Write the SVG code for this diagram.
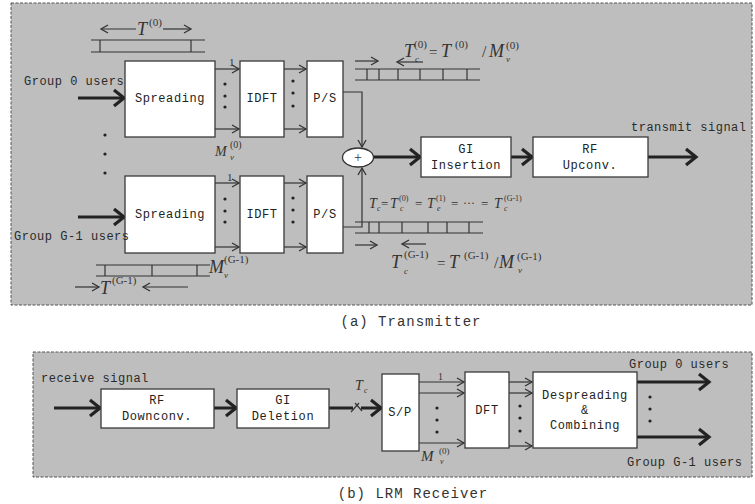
<svg xmlns="http://www.w3.org/2000/svg" width="755" height="504" viewBox="0 0 755 504">
<defs>
<marker id="ah" markerUnits="userSpaceOnUse" markerWidth="10" markerHeight="10" refX="8" refY="5" orient="auto">
<path d="M1,1 L8,5 L1,9" fill="none" stroke="#333" stroke-width="1.3"/>
</marker>
<marker id="ahT" markerUnits="userSpaceOnUse" markerWidth="16" markerHeight="20" refX="12" refY="10" orient="auto">
<path d="M2,2 L12,10 L2,18" fill="none" stroke="#222" stroke-width="3.2" stroke-linejoin="miter"/>
</marker>
</defs>
<style>
.panel{fill:#bebebe;stroke:#555;stroke-width:1;stroke-dasharray:3,1.5}
.box{fill:#fff;stroke:#3a3a3a;stroke-width:1.3}
.lbl{font-family:"Liberation Mono","DejaVu Sans Mono",monospace;font-size:12px;fill:#2a2a2a;letter-spacing:0.5px}
.bl{font-family:"Liberation Mono","DejaVu Sans Mono",monospace;font-size:12px;fill:#222;letter-spacing:0.6px;text-anchor:middle}
.cap{font-family:"Liberation Mono","DejaVu Sans Mono",monospace;font-size:14px;fill:#333;letter-spacing:1px;text-anchor:middle}
.m{font-family:"Liberation Serif","DejaVu Serif",serif;font-style:italic;fill:#333}
.s{font-family:"Liberation Serif","DejaVu Serif",serif;font-style:normal;fill:#333}
.thin{fill:none;stroke:#333;stroke-width:1.2}
.thick{fill:none;stroke:#222;stroke-width:3}
.bar{fill:none;stroke:#333;stroke-width:1.2}
.dot{fill:#222}
</style>
<rect x="0" y="0" width="755" height="504" fill="#fff"/>
<rect class="panel" x="11" y="3" width="741" height="302"/>
<rect class="panel" x="33" y="352" width="719" height="125"/>
<text class="cap" x="411" y="326">(a) Transmitter</text>
<text class="cap" x="413" y="498">(b) LRM Receiver</text>

<g id="connectors">
<line class="thick" x1="78" y1="98" x2="124" y2="98" marker-end="url(#ahT)"/>
<line class="thin" x1="215" y1="69" x2="239" y2="69" marker-end="url(#ah)"/>
<line class="thin" x1="215" y1="129" x2="239" y2="129" marker-end="url(#ah)"/>
<line class="thin" x1="284" y1="69" x2="306" y2="69" marker-end="url(#ah)"/>
<line class="thin" x1="284" y1="129" x2="306" y2="129" marker-end="url(#ah)"/>
<polyline class="thin" points="343,92 362,92 362,147" marker-end="url(#ah)"/>
<line class="thick" x1="78" y1="217" x2="124" y2="217" marker-end="url(#ahT)"/>
<line class="thin" x1="215" y1="183" x2="239" y2="183" marker-end="url(#ah)"/>
<line class="thin" x1="215" y1="247" x2="239" y2="247" marker-end="url(#ah)"/>
<line class="thin" x1="284" y1="183" x2="306" y2="183" marker-end="url(#ah)"/>
<line class="thin" x1="284" y1="247" x2="306" y2="247" marker-end="url(#ah)"/>
<polyline class="thin" points="343,227 362,227 362,168" marker-end="url(#ah)"/>
<line class="thick" x1="374" y1="157" x2="420" y2="157" marker-end="url(#ahT)"/>
<line class="thick" x1="511" y1="157" x2="532" y2="157" marker-end="url(#ahT)"/>
<line class="thick" x1="648" y1="157" x2="696" y2="157" marker-end="url(#ahT)"/>
<line class="thick" x1="54" y1="408" x2="100" y2="408" marker-end="url(#ahT)"/>
<line class="thick" x1="214" y1="408" x2="236" y2="408" marker-end="url(#ahT)"/>
<line class="thick" x1="329" y1="408" x2="353" y2="408"/>
<line class="thin" x1="351" y1="412" x2="359" y2="403"/>
<line class="thin" x1="355" y1="403" x2="362" y2="411"/>
<line class="thick" x1="361" y1="408" x2="381" y2="408" marker-end="url(#ahT)"/>
<line class="thin" x1="419" y1="382" x2="464" y2="382" marker-end="url(#ah)"/>
<line class="thin" x1="419" y1="393" x2="464" y2="393" marker-end="url(#ah)"/>
<line class="thin" x1="419" y1="443" x2="464" y2="443" marker-end="url(#ah)"/>
<line class="thin" x1="509" y1="382" x2="532" y2="382" marker-end="url(#ah)"/>
<line class="thin" x1="509" y1="393" x2="532" y2="393" marker-end="url(#ah)"/>
<line class="thin" x1="509" y1="446" x2="532" y2="446" marker-end="url(#ah)"/>
<line class="thick" x1="637" y1="382" x2="709" y2="382" marker-end="url(#ahT)"/>
<line class="thick" x1="637" y1="437" x2="709" y2="437" marker-end="url(#ahT)"/>
</g>

<g id="spreading0"><rect class="box" x="125" y="61" width="90" height="76"/><text class="bl" x="170" y="102">Spreading</text></g>
<g id="idft0"><rect class="box" x="240" y="61" width="44" height="76"/><text class="bl" x="262" y="102">IDFT</text></g>
<g id="ps0"><rect class="box" x="307" y="61" width="36" height="76"/><text class="bl" x="325" y="102">P/S</text></g>
<g id="spreading1"><rect class="box" x="125" y="176" width="90" height="77"/><text class="bl" x="170" y="218">Spreading</text></g>
<g id="idft1"><rect class="box" x="240" y="176" width="44" height="77"/><text class="bl" x="262" y="218">IDFT</text></g>
<g id="ps1"><rect class="box" x="307" y="176" width="36" height="77"/><text class="bl" x="325" y="218">P/S</text></g>
<g id="sum"><ellipse cx="358" cy="157.5" rx="15.5" ry="9.5" fill="#fff" stroke="#333" stroke-width="1.3"/><text class="s" x="358" y="162" font-size="14" text-anchor="middle">+</text></g>
<g id="giins"><rect class="box" x="421" y="137" width="90" height="40"/><text class="bl" x="466" y="153">GI</text><text class="bl" x="466" y="169">Insertion</text></g>
<g id="rfup"><rect class="box" x="533" y="137" width="115" height="40"/><text class="bl" x="590" y="153">RF</text><text class="bl" x="590" y="169">Upconv.</text></g>
<g id="rfdown"><rect class="box" x="101" y="389" width="113" height="39"/><text class="bl" x="157" y="404">RF</text><text class="bl" x="157" y="420">Downconv.</text></g>
<g id="gidel"><rect class="box" x="237" y="389" width="92" height="39"/><text class="bl" x="283" y="404">GI</text><text class="bl" x="283" y="420">Deletion</text></g>
<g id="sp"><rect class="box" x="382" y="374" width="37" height="77"/><text class="bl" x="400" y="416">S/P</text></g>
<g id="dft"><rect class="box" x="465" y="372" width="44" height="76"/><text class="bl" x="487" y="414">DFT</text></g>
<g id="despread"><rect class="box" x="533" y="372" width="104" height="76"/><text class="bl" x="585" y="399">Despreading</text><text class="bl" x="585" y="414">&amp;</text><text class="bl" x="585" y="429">Combining</text></g>

<g id="labels">
<text class="lbl" x="24" y="85">Group 0 users</text>
<text class="lbl" x="14" y="240">Group G-1 users</text>
<text class="lbl" x="631" y="131">transmit signal</text>
<text class="lbl" x="41" y="382">receive signal</text>
<text class="lbl" x="629" y="368">Group 0 users</text>
<text class="lbl" x="627" y="466">Group G-1 users</text>
<text class="s" x="229" y="66" font-size="11">1</text>
<text class="s" x="227" y="181" font-size="11">1</text>
<text class="s" x="438" y="380" font-size="10">1</text>
</g>

<g id="dots">
<circle class="dot" cx="225" cy="84" r="1.6"/><circle class="dot" cx="225" cy="96" r="1.6"/><circle class="dot" cx="225" cy="107" r="1.6"/>
<circle class="dot" cx="293" cy="81" r="1.6"/><circle class="dot" cx="293" cy="93" r="1.6"/><circle class="dot" cx="293" cy="106" r="1.6"/>
<circle class="dot" cx="225" cy="199" r="1.6"/><circle class="dot" cx="225" cy="211" r="1.6"/><circle class="dot" cx="225" cy="222" r="1.6"/>
<circle class="dot" cx="293" cy="198" r="1.6"/><circle class="dot" cx="293" cy="210" r="1.6"/><circle class="dot" cx="293" cy="222" r="1.6"/>
<circle class="dot" cx="105" cy="135" r="1.6"/><circle class="dot" cx="105" cy="154" r="1.6"/><circle class="dot" cx="105" cy="173" r="1.6"/>
<circle class="dot" cx="437" cy="408" r="1.6"/><circle class="dot" cx="437" cy="420" r="1.6"/><circle class="dot" cx="437" cy="432" r="1.6"/>
<circle class="dot" cx="520" cy="406" r="1.6"/><circle class="dot" cx="520" cy="418" r="1.6"/><circle class="dot" cx="520" cy="431" r="1.6"/>
<circle class="dot" cx="650" cy="397" r="1.6"/><circle class="dot" cx="650" cy="409" r="1.6"/><circle class="dot" cx="650" cy="421" r="1.6"/>
</g>

<g id="timing">
<line class="thin" x1="136" y1="29" x2="101" y2="29" marker-end="url(#ah)"/>
<line class="thin" x1="163" y1="29" x2="191" y2="29" marker-end="url(#ah)"/>
<text class="m" x="137" y="35" font-size="18">T</text><text class="s" x="149" y="26" font-size="11">(0)</text>
<line class="bar" x1="91" y1="40" x2="205" y2="40"/><line class="bar" x1="91" y1="52" x2="205" y2="52"/>
<line class="bar" x1="100" y1="40" x2="100" y2="52"/><line class="bar" x1="191" y1="40" x2="191" y2="52"/>
<text class="m" x="215" y="156" font-size="14">M</text><text class="s" x="230" y="148" font-size="10">(0)</text><text class="m" x="230" y="160" font-size="9">v</text>
<line class="bar" x1="96" y1="265" x2="210" y2="265"/><line class="bar" x1="96" y1="276" x2="210" y2="276"/>
<line class="bar" x1="105" y1="265" x2="105" y2="276"/><line class="bar" x1="152" y1="265" x2="152" y2="276"/><line class="bar" x1="197" y1="265" x2="197" y2="276"/>
<text class="m" x="209" y="273" font-size="18">M</text><text class="s" x="224" y="263" font-size="11">(G-1)</text><text class="m" x="224" y="278" font-size="9">v</text>
<line class="thin" x1="75" y1="287" x2="99" y2="287" marker-end="url(#ah)"/>
<line class="thin" x1="188" y1="287" x2="143" y2="287" marker-end="url(#ah)"/>
<text class="m" x="100" y="294" font-size="18">T</text><text class="s" x="112" y="284" font-size="11">(G-1)</text>
<line class="thin" x1="355" y1="61" x2="378" y2="61" marker-end="url(#ah)"/>
<line class="thin" x1="423" y1="62" x2="397" y2="62" marker-end="url(#ah)"/>
<text class="m" x="404" y="57" font-size="18">T</text><text class="s" x="414" y="48" font-size="11">(0)</text><text class="m" x="415" y="62" font-size="9">c</text>
<text class="s" x="429" y="57" font-size="15">=</text>
<text class="m" x="441" y="57" font-size="18">T</text><text class="s" x="455" y="48" font-size="11">(0)</text>
<text class="s" x="482" y="57" font-size="16">/</text>
<text class="m" x="489" y="57" font-size="18">M</text><text class="s" x="506" y="49" font-size="11">(0)</text><text class="m" x="506" y="62" font-size="9">v</text>
<line class="bar" x1="355" y1="69" x2="480" y2="69"/><line class="bar" x1="355" y1="80" x2="480" y2="80"/>
<line class="bar" x1="367" y1="69" x2="367" y2="80"/><line class="bar" x1="379" y1="69" x2="379" y2="80"/><line class="bar" x1="398" y1="69" x2="398" y2="80"/><line class="bar" x1="420" y1="69" x2="420" y2="80"/><line class="bar" x1="443" y1="69" x2="443" y2="80"/><line class="bar" x1="467" y1="69" x2="467" y2="80"/>
<text class="m" x="369" y="208" font-size="14">T</text><text class="m" x="377" y="211" font-size="8">c</text>
<text class="s" x="381" y="208" font-size="13">=</text>
<text class="m" x="390" y="208" font-size="14">T</text><text class="s" x="399" y="201" font-size="8">(0)</text><text class="m" x="400" y="211" font-size="8">c</text>
<text class="s" x="415" y="208" font-size="13">=</text>
<text class="m" x="427" y="208" font-size="14">T</text><text class="s" x="436" y="201" font-size="8">(1)</text><text class="m" x="437" y="211" font-size="8">e</text>
<text class="s" x="451" y="208" font-size="13">=</text>
<text class="s" x="463" y="207" font-size="12">···</text>
<text class="s" x="481" y="208" font-size="13">=</text>
<text class="m" x="494" y="208" font-size="14">T</text><text class="s" x="504" y="201" font-size="8">(G-1)</text><text class="m" x="504" y="211" font-size="8">c</text>
<line class="bar" x1="355" y1="222" x2="483" y2="222"/><line class="bar" x1="355" y1="233" x2="483" y2="233"/>
<line class="bar" x1="369" y1="222" x2="369" y2="233"/><line class="bar" x1="379" y1="222" x2="379" y2="233"/><line class="bar" x1="402" y1="222" x2="402" y2="233"/><line class="bar" x1="428" y1="222" x2="428" y2="233"/><line class="bar" x1="447" y1="222" x2="447" y2="233"/><line class="bar" x1="469" y1="222" x2="469" y2="233"/>
<line class="thin" x1="355" y1="245" x2="377" y2="245" marker-end="url(#ah)"/>
<line class="thin" x1="426" y1="244" x2="402" y2="244" marker-end="url(#ah)"/>
<text class="m" x="391" y="268" font-size="18">T</text><text class="s" x="404" y="258" font-size="11">(G-1)</text><text class="m" x="404" y="274" font-size="9">c</text>
<text class="s" x="437" y="268" font-size="15">=</text>
<text class="m" x="449" y="268" font-size="18">T</text><text class="s" x="464" y="259" font-size="11">(G-1)</text>
<text class="s" x="494" y="268" font-size="16">/</text>
<text class="m" x="499" y="268" font-size="18">M</text><text class="s" x="517" y="260" font-size="11">(G-1)</text><text class="m" x="518" y="273" font-size="9">v</text>
<text class="m" x="355" y="390" font-size="14">T</text><text class="m" x="364" y="393" font-size="8">c</text>
<text class="m" x="421" y="461" font-size="15">M</text><text class="s" x="439" y="454" font-size="9">(0)</text><text class="m" x="440" y="464" font-size="8">v</text>
</g>
</svg>
